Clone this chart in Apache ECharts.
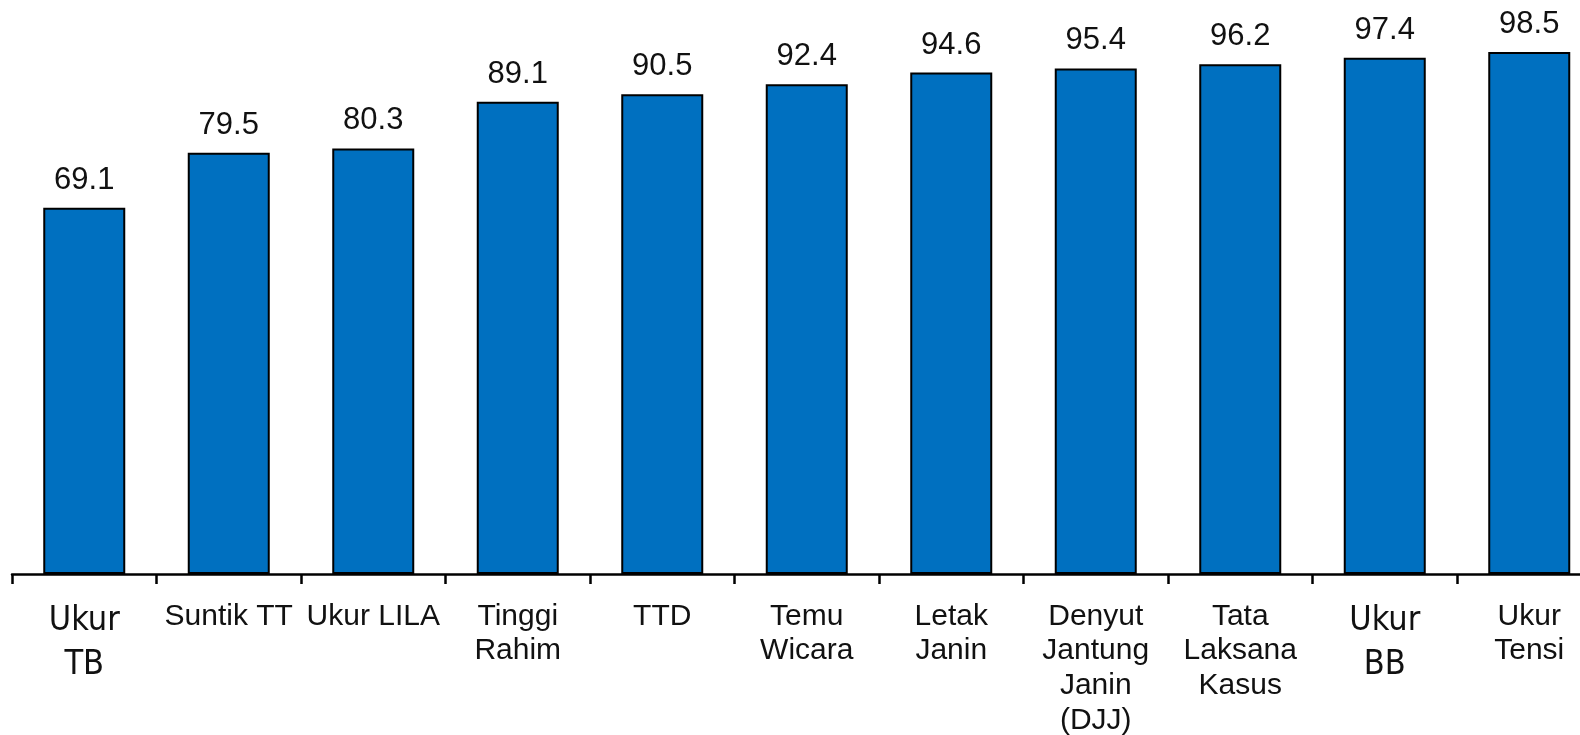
<!DOCTYPE html>
<html>
<head>
<meta charset="utf-8">
<script src="https://cdn.jsdelivr.net/npm/echarts@6/dist/echarts.min.js"></script>
<style>
  html, body { margin: 0; padding: 0; background: #ffffff; }
  #chart { width: 1580px; height: 735px; }
</style>
</head>
<body>
<div id="chart"></div>
<script>
var categories = [
  'Ukur\nTB', 'Suntik TT', 'Ukur LILA', 'Tinggi\nRahim', 'TTD', 'Temu\nWicara',
  'Letak\nJanin', 'Denyut\nJantung\nJanin\n(DJJ)', 'Tata\nLaksana\nKasus', 'Ukur\nBB', 'Ukur\nTensi'
];
var values = [69.1, 79.5, 80.3, 89.1, 90.5, 92.4, 94.6, 95.4, 96.2, 97.4, 98.5];
var narrowLabels = ['Ukur\nTB', 'Ukur\nBB'];

var chart = echarts.init(document.getElementById('chart'), null, { renderer: 'canvas' });
chart.setOption({
  animation: false,
  backgroundColor: '#ffffff',
  grid: { left: 12, top: 44, width: 1589.5, bottom: 161, containLabel: false, outerBoundsMode: 'none' },
  xAxis: {
    type: 'category',
    data: categories,
    axisLine: { show: true, lineStyle: { color: '#000000', width: 2.5 } },
    axisTick: { show: true, length: 10, lineStyle: { color: '#000000', width: 2.5 } },
    axisLabel: {
      interval: 0,
      margin: 25,
      color: '#111111',
      fontFamily: "'Liberation Sans', Arial, sans-serif",
      fontSize: 30,
      lineHeight: 34.7,
      formatter: function (v) {
        if (narrowLabels.indexOf(v) >= 0) { return '{n|' + v.split('\n').join('}\n{n|') + '}'; }
        return v;
      },
      rich: {
        n: {
          fontFamily: "'Liberation Sans Narrow', 'Arial Narrow', 'DejaVu Sans Condensed', sans-serif",
          fontSize: 34,
          lineHeight: 44,
          color: '#111111'
        }
      }
    }
  },
  yAxis: {
    type: 'value',
    min: 0,
    max: 100,
    show: false,
    splitLine: { show: false }
  },
  series: [{
    type: 'bar',
    data: values,
    barWidth: 82,
    itemStyle: { color: '#0070C0', borderColor: '#000000', borderWidth: 2 },
    label: {
      show: true,
      position: 'top',
      distance: 12,
      color: '#111111',
      fontFamily: "'Liberation Sans', Arial, sans-serif",
      fontSize: 31,
      formatter: function (p) { return p.value.toFixed(1); }
    }
  }]
});
</script>
</body>
</html>
